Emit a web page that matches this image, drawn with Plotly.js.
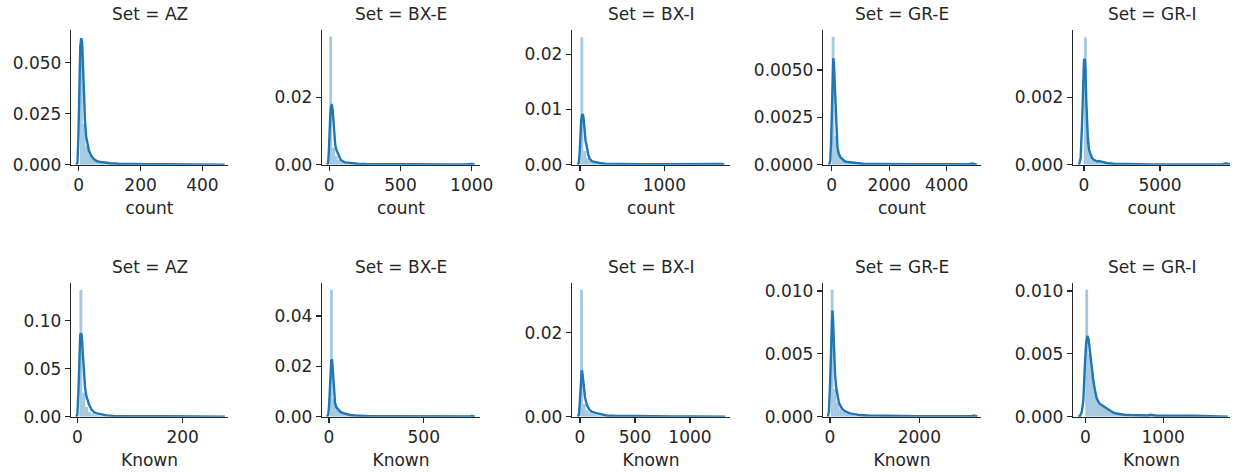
<!DOCTYPE html>
<html>
<head>
<meta charset="utf-8">
<script src="https://cdn.plot.ly/plotly-3.0.1.min.js"></script>
<style>html,body{margin:0;padding:0;background:#fff;}#chart{width:1239px;height:472px;}</style>
</head>
<body>
<div id="chart"></div>
<script>
// ---------------- DATA ----------------
const sets = ["AZ", "BX-E", "BX-I", "GR-E", "GR-I"];
const variables = ["count", "Known"];

// histogram bins: first bin left edge, bin width, densities of successive bins
const countBinStart = [4, 0, 5, 0, 0];
const countBinWidth = [9.2, 20, 34, 99, 187];
const knownBinStart = [4, 5, 0, 15, 0];
const knownBinWidth = [5.5, 15, 26, 65, 36];

const countHistAZ  = [0.062, 0.02, 0.009, 0.005, 0.003, 0.002, 0.0015, 0.001, 0.0008, 0.0006, 0.0005, 0.0004, 0.0003, 0.0002, 0.0002, 0.0002, 0.0001, 0.0001, 0.0001, 0.0001];
const countHistBXE = [0.038, 0.005, 0.0025, 0.0014, 0.0009, 0.0006, 0.0004, 0.0003, 0.0002, 0.0002, 0.0001, 0.0001, 0.0001];
const countHistBXI = [0.0231, 0.0025, 0.0012, 0.0007, 0.0005, 0.0003, 0.0002, 0.0002, 0.0001, 0.0001, 0.0001];
const countHistGRE = [0.00674, 0.0015, 0.0007, 0.0004, 0.00022, 0.00015, 0.0001, 0.00008, 0.00006, 0.00005, 0.00004, 0.00003, 0.00002];
const countHistGRI = [0.00378, 0.0008, 0.0003, 0.00015, 0.0001, 0.00006, 0.00004, 0.00003, 0.00002, 0.00002, 0.00001];

const knownHistAZ  = [0.132, 0.025, 0.01, 0.005, 0.003, 0.002, 0.0013, 0.001, 0.0007, 0.0005, 0.0004, 0.0004, 0.0003, 0.0003, 0.0002];
const knownHistBXE = [0.0504, 0.007, 0.0035, 0.0018, 0.0012, 0.0008, 0.0005, 0.0004, 0.0003, 0.0002, 0.0002, 0.0001, 0.0001];
const knownHistBXI = [0.0302, 0.003, 0.0015, 0.001, 0.0007, 0.0005, 0.0003, 0.0002, 0.0002, 0.0002, 0.0001];
const knownHistGRE = [0.0101, 0.0022, 0.0011, 0.0006, 0.0004, 0.00025, 0.0002, 0.00015, 0.0001, 0.0001, 0.00008, 0.00006, 0.00005];
const knownHistGRI = [0.0101, 0.005, 0.0035, 0.002, 0.0013, 0.001, 0.0008, 0.0007, 0.0006, 0.0005, 0.0004, 0.0003, 0.00025, 0.0002, 0.0002, 0.00015, 0.00015, 0.0001, 0.0001, 0.0001, 0.0001, 0.0001, 0.00008, 0.00012, 0.00008];

// KDE curves (x, density)
const countKdeXAZ = [-8, -4, -1, 2, 5, 8, 11, 14, 17, 20, 24, 28, 33, 40, 48, 58, 70, 85, 100, 130, 170, 220, 280, 340, 400, 445, 458, 465, 472];
const countKdeYAZ = [0, 0.001, 0.014, 0.04, 0.058, 0.062, 0.06, 0.048, 0.033, 0.022, 0.014, 0.0097, 0.0068, 0.0045, 0.0028, 0.0018, 0.0013, 0.0011, 0.0007, 0.0005, 0.0003, 0.00025, 0.0002, 0.00015, 0.00012, 0.0001, 0.0003, 0.0002, 0.00002];
const countKdeXBXE = [-15, -8, -3, 2, 8, 14, 19, 24, 30, 36, 42, 50, 58, 68, 80, 95, 110, 130, 150, 200, 260, 350, 450, 550, 650, 750, 850, 950, 985, 998, 1005, 1020];
const countKdeYBXE = [0, 0.0005, 0.004, 0.01, 0.0155, 0.0175, 0.0176, 0.016, 0.012, 0.0085, 0.0058, 0.0044, 0.0036, 0.0024, 0.0015, 0.001, 0.0007, 0.0006, 0.0005, 0.0003, 0.0002, 0.00015, 0.0001, 0.0001, 0.00008, 0.00008, 0.00006, 0.00006, 0.0001, 0.0003, 0.0002, 0.00002];
const countKdeXBXI = [-25, -14, -5, 5, 15, 25, 35, 42, 50, 58, 66, 75, 85, 99, 115, 135, 158, 190, 237, 300, 400, 550, 700, 900, 1100, 1300, 1500, 1640, 1675, 1690, 1710];
const countKdeYBXI = [0, 0.0004, 0.002, 0.0055, 0.0082, 0.009, 0.009, 0.0085, 0.0068, 0.0052, 0.0043, 0.0037, 0.0028, 0.00176, 0.0011, 0.0007, 0.00054, 0.0004, 0.0003, 0.0002, 0.00015, 0.0001, 0.0001, 0.00008, 0.00007, 0.00006, 0.00006, 0.00006, 0.00015, 0.00012, 0.00001];
const countKdeXGRE = [-90, -50, -20, 10, 35, 55, 75, 100, 125, 150, 175, 200, 240, 300, 380, 463, 560, 650, 753, 900, 1100, 1400, 1800, 2300, 2800, 3300, 3800, 4300, 4700, 4900, 4960, 5050];
const countKdeYGRE = [0, 0.0002, 0.0012, 0.0036, 0.0052, 0.00562, 0.0054, 0.0045, 0.0032, 0.0021, 0.0014, 0.00095, 0.0006, 0.0004, 0.00028, 0.00018, 0.00014, 0.00012, 0.0001, 0.00007, 0.00005, 0.00004, 0.00003, 0.00003, 0.00002, 0.00002, 0.00002, 0.00002, 0.00002, 0.00006, 0.00005, 0.000005];
const countKdeXGRI = [-320, -220, -130, -60, 0, 50, 100, 150, 200, 260, 330, 400, 500, 620, 750, 850, 950, 1050, 1200, 1500, 1930, 2500, 3500, 4500, 5500, 6500, 7500, 8500, 9100, 9330, 9450, 9600];
const countKdeYGRI = [0, 0.0002, 0.0012, 0.0025, 0.0031, 0.00314, 0.0028, 0.0019, 0.0011, 0.0007, 0.00045, 0.00033, 0.00022, 0.00015, 0.00011, 0.0001, 0.00011, 0.0001, 0.00007, 0.00005, 0.00003, 0.00002, 0.000015, 0.00001, 0.00001, 0.00001, 0.00001, 0.00001, 0.00001, 0.00004, 0.00003, 0.000003];

const knownKdeXAZ = [-2, 0, 2, 4, 5.5, 7, 8.5, 10, 12, 14.6, 17, 19, 22, 27, 32, 37, 45, 56, 70, 90, 120, 160, 200, 240, 265, 272, 276, 280];
const knownKdeYAZ = [0, 0.002, 0.025, 0.065, 0.085, 0.0868, 0.084, 0.07, 0.048, 0.031, 0.022, 0.0174, 0.013, 0.0075, 0.0045, 0.0035, 0.0026, 0.0014, 0.0009, 0.0006, 0.0005, 0.0004, 0.0003, 0.0003, 0.0003, 0.0008, 0.0006, 0.00005];
const knownKdeXBXE = [-10, -4, 0, 4, 8, 12, 16, 20, 23, 27, 32, 38, 49, 60, 75, 90, 111, 140, 180, 216, 300, 400, 500, 600, 700, 745, 755, 762, 770];
const knownKdeYBXE = [0, 0.0008, 0.004, 0.011, 0.018, 0.0222, 0.0228, 0.018, 0.012, 0.0078, 0.0054, 0.0038, 0.0027, 0.0019, 0.0014, 0.001, 0.0007, 0.0005, 0.0003, 0.0002, 0.00015, 0.0001, 0.0001, 0.00008, 0.00008, 0.0001, 0.0003, 0.0002, 0.00002];
const knownKdeXBXI = [-20, -10, -3, 4, 10, 15, 20, 26, 32, 38, 45, 55, 67, 85, 106, 140, 182, 242, 320, 420, 550, 700, 850, 1000, 1150, 1260, 1285, 1300, 1320];
const knownKdeYBXI = [0, 0.0005, 0.003, 0.0072, 0.0102, 0.011, 0.0108, 0.0092, 0.0073, 0.0058, 0.0047, 0.0035, 0.0025, 0.0017, 0.0012, 0.0009, 0.00064, 0.0003, 0.00022, 0.00016, 0.00013, 0.0001, 0.00008, 0.00008, 0.00007, 0.00006, 0.00018, 0.00015, 0.00001];
const knownKdeXGRE = [-50, -25, 0, 20, 38, 52, 66, 80, 95, 112, 135, 164, 200, 262, 340, 448, 560, 672, 850, 1100, 1400, 1700, 2000, 2400, 2800, 3150, 3220, 3260, 3300];
const knownKdeYGRE = [0, 0.0004, 0.0025, 0.0058, 0.0079, 0.00844, 0.0079, 0.0064, 0.0048, 0.00345, 0.0024, 0.0017, 0.0011, 0.00067, 0.00042, 0.00027, 0.00018, 0.00013, 0.0001, 0.00008, 0.00006, 0.00005, 0.00004, 0.00004, 0.00003, 0.00003, 0.0001, 0.00008, 0.000005];
const knownKdeXGRI = [-90, -68, -45, -25, -4, 10, 26, 40, 51, 65, 82, 100, 124, 145, 167, 190, 210, 240, 274, 310, 359, 400, 445, 500, 573, 650, 744, 800, 838, 880, 915, 1000, 1100, 1172, 1250, 1385, 1500, 1650, 1791, 1830];
const knownKdeYGRI = [0, 0.00005, 0.0004, 0.0013, 0.0043, 0.0058, 0.00643, 0.0062, 0.0057, 0.0049, 0.004, 0.003, 0.0021, 0.0015, 0.0012, 0.001, 0.00093, 0.0008, 0.00067, 0.0005, 0.00032, 0.00025, 0.00019, 0.00016, 0.00013, 0.0001, 0.00008, 0.0001, 0.00015, 0.0001, 0.00008, 0.00007, 0.00008, 0.00007, 0.00006, 0.00007, 0.00005, 0.00004, 0.00004, 0.000005];

// tick labels
const countXTicks = [[0, 200, 400], [0, 500, 1000], [0, 1000], [0, 2000, 4000], [0, 5000]];
const knownXTicks = [[0, 200], [0, 500], [0, 500, 1000], [0, 2000], [0, 1000]];
const countYTicks = [[0, 0.025, 0.05], [0, 0.02], [0, 0.01, 0.02], [0, 0.0025, 0.005], [0, 0.002]];
const knownYTicks = [[0, 0.05, 0.1], [0, 0.02, 0.04], [0, 0.02], [0, 0.005, 0.01], [0, 0.005, 0.01]];
const countYFormat = [".3f", ".2f", ".2f", ".4f", ".3f"];
const knownYFormat = [".2f", ".2f", ".2f", ".3f", ".3f"];

// ---------------- LAYOUT / STYLE ----------------
const W = 1239, H = 472;
const colPx = [[71, 228], [322, 480], [572, 730], [823, 981], [1073, 1230]];
const rowPx = [[30, 164.7], [282.7, 416.7]];
const xRanges = [[[-25, 483], [-51, 1058], [-95, 1779], [-302, 5193], [-724, 9605]],
                 [[-12, 286], [-37, 797], [-73, 1364], [-157, 3381], [-158, 1858]]];
const yRanges = [[0.066, 0.0399, 0.0244, 0.00711, 0.0040],
                 [0.1395, 0.0532, 0.0319, 0.01066, 0.01066]];
const FONT = "DejaVu Sans";
const FS = 17;
const INK = "#262626";
const BLUE = "#1f77b4";
const BAR = "rgba(31,119,180,0.4)";

const rows = [
  {name: "count", binStart: countBinStart, binWidth: countBinWidth,
   hist: [countHistAZ, countHistBXE, countHistBXI, countHistGRE, countHistGRI],
   kx: [countKdeXAZ, countKdeXBXE, countKdeXBXI, countKdeXGRE, countKdeXGRI],
   ky: [countKdeYAZ, countKdeYBXE, countKdeYBXI, countKdeYGRE, countKdeYGRI],
   xt: countXTicks, yt: countYTicks, yf: countYFormat},
  {name: "Known", binStart: knownBinStart, binWidth: knownBinWidth,
   hist: [knownHistAZ, knownHistBXE, knownHistBXI, knownHistGRE, knownHistGRI],
   kx: [knownKdeXAZ, knownKdeXBXE, knownKdeXBXI, knownKdeXGRE, knownKdeXGRI],
   ky: [knownKdeYAZ, knownKdeYBXE, knownKdeYBXI, knownKdeYGRE, knownKdeYGRI],
   xt: knownXTicks, yt: knownYTicks, yf: knownYFormat}
];

const traces = [];
const layout = {
  width: W, height: H,
  margin: {l: 0, r: 0, t: 0, b: 0},
  paper_bgcolor: "#fff", plot_bgcolor: "#fff",
  showlegend: false,
  font: {family: FONT, size: FS, color: INK},
  annotations: []
};

rows.forEach((row, r) => {
  sets.forEach((set, c) => {
    const k = r * 5 + c + 1;
    const xa = "x" + (k === 1 ? "" : k), ya = "y" + (k === 1 ? "" : k);
    const h = row.hist[c];
    const edges = h.map((_, i) => row.binStart[c] + i * row.binWidth[c]);
    traces.push({
      type: "bar", x: edges, y: h, width: row.binWidth[c], offset: 0,
      marker: {color: BAR, line: {width: 0}},
      xaxis: xa, yaxis: ya, hoverinfo: "skip"
    });
    traces.push({
      type: "scatter", mode: "lines", x: row.kx[c], y: row.ky[c],
      line: {color: BLUE, width: 2.4},
      xaxis: xa, yaxis: ya, hoverinfo: "skip", cliponaxis: true
    });
    const xd = [colPx[c][0] / W, colPx[c][1] / W];
    const yd = [(H - rowPx[r][1]) / H, (H - rowPx[r][0]) / H];
    const common = {
      showline: true, linecolor: INK, linewidth: 1.25,
      ticks: "outside", ticklen: 5, tickwidth: 1.25, tickcolor: INK,
      showgrid: false, zeroline: false, fixedrange: true,
      tickfont: {family: FONT, size: FS, color: INK}
    };
    layout["xaxis" + (k === 1 ? "" : k)] = Object.assign({}, common, {
      domain: xd, anchor: ya, range: xRanges[r][c],
      tickvals: row.xt[c], tickformat: "d",
      title: {text: row.name, font: {family: FONT, size: FS, color: INK}, standoff: 7}
    });
    layout["yaxis" + (k === 1 ? "" : k)] = Object.assign({}, common, {
      domain: yd, anchor: xa, range: [0, yRanges[r][c]],
      tickvals: row.yt[c], tickformat: row.yf[c]
    });
    layout.annotations.push({
      text: "Set = " + set, showarrow: false,
      xref: "paper", yref: "paper",
      x: (xd[0] + xd[1]) / 2, y: (H - (rowPx[r][0] - 15.5)) / H,
      xanchor: "center", yanchor: "middle",
      font: {family: FONT, size: FS, color: INK}
    });
  });
});

Plotly.newPlot("chart", traces, layout, {staticPlot: true, displayModeBar: false});
</script>
</body>
</html>
